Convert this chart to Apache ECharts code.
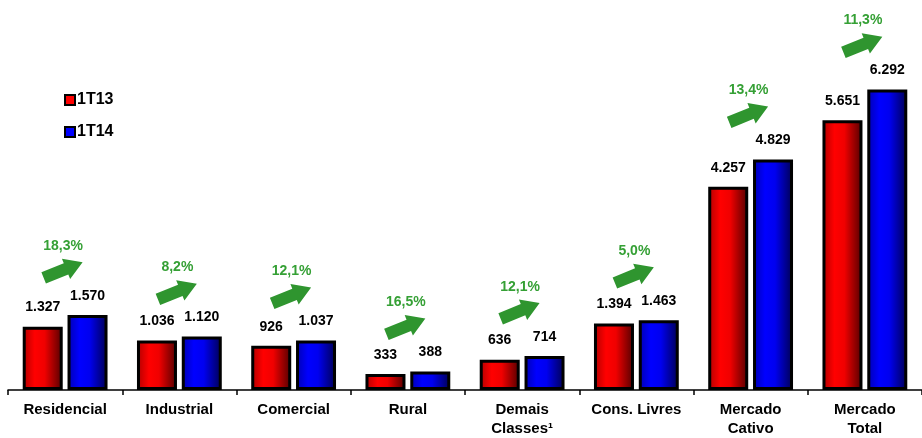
<!DOCTYPE html>
<html>
<head>
<meta charset="utf-8">
<script src="https://cdn.jsdelivr.net/npm/echarts@6/dist/echarts.min.js"></script>
<style>
  html, body { margin: 0; padding: 0; background: #fff; }
  #chart { width: 922px; height: 438px; }
</style>
</head>
<body>
<div id="chart"></div>
<script>
// dados do gráfico
const categories = ['Residencial', 'Industrial', 'Comercial', 'Rural', 'Demais\nClasses¹', 'Cons. Livres', 'Mercado\nCativo', 'Mercado\nTotal']
const values1T13 = [1327, 1036, 926, 333, 636, 1394, 4257, 5651]
const values1T14 = [1570, 1120, 1037, 388, 714, 1463, 4829, 6292]
const growth = ['18,3%', '8,2%', '12,1%', '16,5%', '12,1%', '5,0%', '13,4%', '11,3%']

const font = '"Liberation Sans", Arial, sans-serif'
const arrowPath = 'path://M0,4.5 L23,4.5 L23,0 L40,10 L23,20 L23,15.5 L0,15.5 Z'

// formato brasileiro: 1.327
const fmt = v => String(v).replace(/\B(?=(\d{3})+(?!\d))/g, '.')

const grad = stops => ({
  type: 'linear', x: 0, y: 0, x2: 1, y2: 0,
  colorStops: stops.map((c, i) => ({ offset: [0, 0.3, 0.55, 1][i], color: c }))
})

const chart = echarts.init(document.getElementById('chart'))

const barLabel = {
  show: true,
  position: 'top',
  distance: 12,
  color: '#000',
  fontFamily: font,
  fontWeight: 'bold',
  fontSize: 14,
  formatter: p => fmt(p.value)
}

const options = {
  animation: false,
  legend: {
    orient: 'vertical',
    left: 59,
    top: 86,
    itemWidth: 10,
    itemHeight: 10,
    itemGap: 14,
    icon: 'rect',
    textStyle: { fontFamily: font, fontWeight: 'bold', fontSize: 16, color: '#000', lineHeight: 18, padding: [0, 0, 0, -3] },
    data: [
      { name: '1T13', itemStyle: { color: '#ff0000', borderColor: '#000', borderWidth: 2 } },
      { name: '1T14', itemStyle: { color: '#0000ff', borderColor: '#000', borderWidth: 2 } }
    ]
  },
  grid: {
    left: 8,
    top: 8,
    width: 922,
    bottom: 46,
    containLabel: false
  },
  xAxis: {
    type: 'category',
    data: categories,
    axisLine: { lineStyle: { color: '#000', width: 1.5 } },
    axisTick: { show: true, length: 5, lineStyle: { color: '#000', width: 1.5 } },
    axisLabel: {
      margin: 10,
      color: '#000',
      fontFamily: font,
      fontWeight: 'bold',
      fontSize: 15,
      lineHeight: 19,
      interval: 0
    }
  },
  yAxis: {
    type: 'value',
    min: 0,
    max: 8000,
    show: false,
    splitLine: { show: false }
  },
  series: [
    {
      name: '1T13',
      type: 'bar',
      data: values1T13,
      barWidth: 40,
      barGap: '12%',
      itemStyle: {
        color: grad(['#b00000', '#ff0000', '#f00000', '#500000']),
        borderColor: '#000',
        borderWidth: 3
      },
      label: barLabel
    },
    {
      name: '1T14',
      type: 'bar',
      data: values1T14,
      barWidth: 40,
      barGap: '12%',
      itemStyle: {
        color: grad(['#0000b0', '#0000ff', '#0000f0', '#000050']),
        borderColor: '#000',
        borderWidth: 3
      },
      label: barLabel
    },
    {
      // setas verdes de crescimento
      name: 'seta',
      type: 'scatter',
      data: values1T14,
      symbol: arrowPath,
      symbolSize: [42, 22],
      symbolRotate: 22,
      symbolOffset: [-2, -45],
      itemStyle: { color: '#2f952f', opacity: 1 },
      silent: true,
      z: 5
    },
    {
      name: 'crescimento',
      type: 'scatter',
      data: values1T14,
      symbolSize: 1,
      symbolOffset: [-2, -69],
      itemStyle: { color: 'rgba(0,0,0,0)', opacity: 1 },
      label: {
        show: true,
        position: 'inside',
        color: '#35a035',
        opacity: 1,
        fontFamily: font,
        fontWeight: 'bold',
        fontSize: 14,
        formatter: p => growth[p.dataIndex]
      },
      silent: true,
      z: 6
    }
  ]
}

chart.setOption(options)
</script>
</body>
</html>
